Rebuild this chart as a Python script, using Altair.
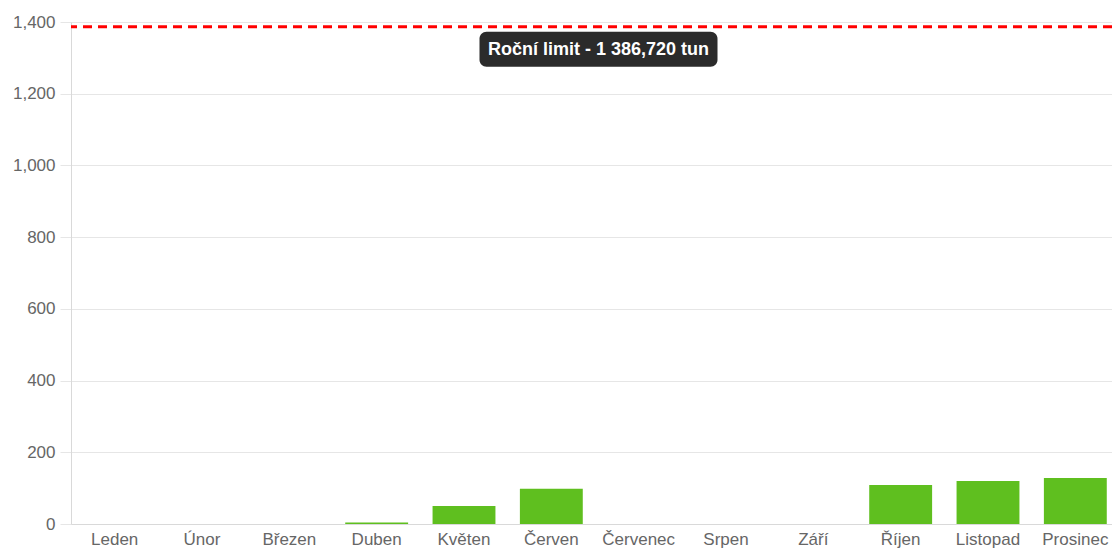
import altair as alt
import pandas as pd

months = ["Leden", "Únor", "Březen", "Duben", "Květen", "Červen",
          "Červenec", "Srpen", "Září", "Říjen", "Listopad", "Prosinec"]
values = [0, 0, 0, 4, 50, 98, 0, 0, 0, 109, 120, 128]
limit_value = 1386.72
limit_label = "Roční limit - 1 386,720 tun"
y_ticks = [0, 200, 400, 600, 800, 1000, 1200, 1400]

# layout: svg fills the page exactly (1104 x 542 inside the 8px margin)
PAD_L, PAD_T = 63, 14
SVG_W, SVG_H = 1104, 542
W, H = SVG_W - PAD_L, 502
BAND_RANGE = 1048          # the bands run a little past the visible edge
FONT = "Liberation Sans"

bars_df = pd.DataFrame({"month": months, "value": values})
limit_df = pd.DataFrame({"limit": [limit_value], "label": [limit_label]})

x_enc = alt.X(
    "month:N", sort=months,
    scale=alt.Scale(paddingInner=0.28, paddingOuter=0.14, range=[0, BAND_RANGE]),
    axis=alt.Axis(title=None, labelAngle=0, ticks=False, labelPadding=7,
                  labelFontSize=17, labelColor="#666666", labelFont=FONT,
                  domainColor="#d9d9d9", grid=False, labelOverlap=False),
)
y_enc = alt.Y(
    "value:Q",
    scale=alt.Scale(domain=[0, 1400], nice=False, zero=True),
    axis=alt.Axis(title=None, values=y_ticks, format=",.0f", tickSize=11,
                  tickColor="#e6e6e6", gridColor="#e6e6e6", domainColor="#d9d9d9",
                  labelPadding=5, labelFontSize=17, labelColor="#666666",
                  labelFont=FONT),
)

bars = alt.Chart(bars_df).mark_bar(color="#5fbf1f").encode(x=x_enc, y=y_enc)

base = alt.Chart(limit_df)
rule = base.mark_rule(color="#ff0000", strokeDash=[9, 6], strokeWidth=3).encode(
    y=alt.Y("limit:Q")
)
CX = 1055 / 2
box = base.mark_rect(color="#2b2b2b", cornerRadius=7, yOffset=5, y2Offset=40).encode(
    y=alt.Y("limit:Q"), y2=alt.Y2("limit"),
    x=alt.value(CX - 119), x2=alt.value(CX + 119),
)
label = base.mark_text(color="white", fontWeight="bold", fontSize=18, font=FONT,
                       dy=23, baseline="middle", align="center").encode(
    y=alt.Y("limit:Q"), x=alt.value(CX), text="label:N"
)

chart = alt.layer(bars, rule, box, label).properties(
    width=W, height=H,
    autosize=alt.AutoSizeParams(type="none"),
    padding={"left": PAD_L, "top": PAD_T, "right": 0,
             "bottom": SVG_H - PAD_T - H},
).configure_view(stroke=None).configure(background="white")

chart.save("out.html", embed_options={"renderer": "svg", "actions": False})
